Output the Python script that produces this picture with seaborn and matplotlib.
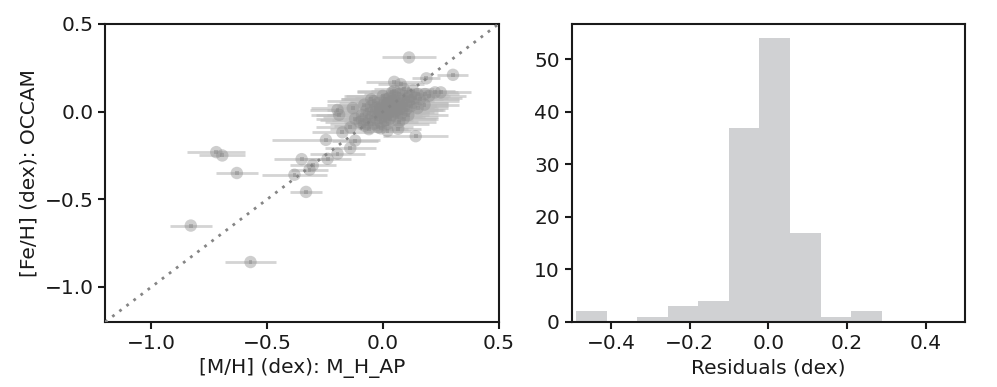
import matplotlib
matplotlib.use("Agg")
import matplotlib.pyplot as plt
import seaborn as sns
import numpy as np
import pandas as pd

# ---- data: scatter (M_H_AP vs OCCAM) ----
mh_ap = [0.113, 0.303, 0.188, 0.049, 0.077, 0.225, 0.182, -0.196, -0.189, 0.142,
         -0.246, -0.12, -0.141, -0.196, -0.239, -0.351, -0.72, -0.694, -0.631, -0.382,
         -0.317, -0.303, -0.332, -0.83, -0.572, -0.009, 0.02, 0.066,
         -0.12, -0.10, -0.09, -0.08, -0.07, -0.06, -0.05, -0.05, -0.04, -0.03,
         -0.03, -0.02, -0.02, -0.01, -0.01, 0.00, 0.00, 0.00, 0.01, 0.01,
         0.01, 0.02, 0.02, 0.02, 0.03, 0.03, 0.03, 0.04, 0.04, 0.04,
         0.05, 0.05, 0.05, 0.06, 0.06, 0.06, 0.07, 0.07, 0.08, 0.08,
         0.09, 0.09, 0.10, 0.10, 0.11, 0.12, 0.12, 0.13, 0.14, 0.15,
         0.16, 0.18, 0.20, -0.14, -0.13, -0.175, -0.08, -0.06, -0.04, -0.02,
         0.00, 0.02, 0.04, 0.07, 0.09, 0.11, 0.13, 0.01, 0.03, -0.01,
         0.02, 0.05, 0.06, -0.02, 0.04, 0.08, 0.03, -0.03, 0.07, 0.00,
         0.10, -0.06, 0.02, 0.06, -0.09, 0.11, 0.15, -0.05, 0.01, 0.09,
         -0.07, 0.25, 0.05]
occam = [0.309, 0.21, 0.19, 0.17, 0.157, 0.11, 0.10, 0.01, -0.018, -0.14,
         -0.161, -0.165, -0.208, -0.24, -0.269, -0.271, -0.231, -0.25, -0.35, -0.36,
         -0.331, -0.306, -0.458, -0.65, -0.858, -0.095, -0.11, -0.098,
         -0.04, -0.06, -0.02, -0.08, 0.01, -0.05, -0.03, 0.03, -0.07, 0.00,
         -0.04, 0.05, -0.02, 0.02, -0.06, 0.00, 0.04, -0.03, 0.01, 0.07,
         -0.05, 0.03, -0.01, 0.05, 0.00, 0.08, -0.04, 0.02, 0.06, -0.02,
         0.04, 0.00, 0.09, 0.03, -0.03, 0.06, 0.01, 0.10, 0.05, -0.01,
         0.07, 0.02, 0.04, 0.11, 0.06, 0.03, 0.09, 0.05, 0.08, 0.02,
         0.07, 0.04, 0.09, -0.09, 0.02, -0.118, 0.04, -0.10, 0.06, -0.09,
         0.09, -0.07, 0.11, -0.06, 0.13, -0.02, 0.12, 0.03, 0.04, -0.01,
         0.01, 0.02, 0.01, 0.01, 0.00, 0.03, 0.02, 0.02, 0.04, 0.02,
         0.01, -0.01, 0.07, 0.08, -0.05, 0.08, 0.10, 0.07, -0.03, -0.04,
         -0.07, 0.11, 0.12]
mh_err = [0.116, 0.067, 0.06, 0.12, 0.10, 0.10, 0.10, 0.12, 0.12, 0.14,
          0.235, 0.10, 0.11, 0.12, 0.10, 0.12, 0.125, 0.10, 0.09, 0.14,
          0.08, 0.10, 0.07, 0.09, 0.11, 0.10, 0.10, 0.10,
          0.17, 0.15, 0.20, 0.13, 0.17, 0.16, 0.21, 0.15, 0.12, 0.18,
          0.13, 0.17, 0.22, 0.15, 0.16, 0.20, 0.13, 0.17, 0.15, 0.18,
          0.12, 0.21, 0.16, 0.13, 0.17, 0.15, 0.20, 0.16, 0.18, 0.13,
          0.17, 0.15, 0.21, 0.16, 0.18, 0.13, 0.17, 0.15, 0.20, 0.16,
          0.17, 0.13, 0.18, 0.15, 0.22, 0.16, 0.17, 0.15, 0.20, 0.13,
          0.17, 0.15, 0.16, 0.15, 0.18, 0.13, 0.16, 0.17, 0.20, 0.15,
          0.17, 0.18, 0.15, 0.16, 0.13, 0.17, 0.18, 0.16, 0.17, 0.18,
          0.15, 0.17, 0.20, 0.16, 0.18, 0.15, 0.21, 0.17, 0.16, 0.18,
          0.17, 0.15, 0.20, 0.15, 0.18, 0.17, 0.18, 0.13, 0.17, 0.15,
          0.16, 0.13, 0.16]

# ---- data: residual histogram ----
bin_edges = [-0.488, -0.410, -0.333, -0.255, -0.178, -0.100, -0.023, 0.055, 0.133, 0.210, 0.288]
bin_counts = [2, 0, 1, 3, 4, 37, 54, 17, 1, 2]

x_ticks_left = [-1.0, -0.5, 0.0, 0.5]
y_ticks_left = [-1.0, -0.5, 0.0, 0.5]
x_ticks_right = [-0.4, -0.2, 0.0, 0.2, 0.4]
y_ticks_right = [0, 10, 20, 30, 40, 50]

sns.set_style("ticks")
plt.rcParams["font.family"] = ["DejaVu Sans"]
plt.rcParams.update({
    "axes.edgecolor": "#1a1a1a",
    "axes.linewidth": 1.5,
    "xtick.major.width": 1.5,
    "ytick.major.width": 1.5,
    "xtick.major.size": 5,
    "ytick.major.size": 5,
    "xtick.color": "#1a1a1a",
    "ytick.color": "#1a1a1a",
    "xtick.labelsize": 14.5,
    "ytick.labelsize": 14.5,
    "axes.labelsize": 14.5,
    "axes.labelcolor": "#1a1a1a",
})

fig, (ax1, ax2) = plt.subplots(1, 2, figsize=(9.97, 3.87), dpi=100)
fig.subplots_adjust(left=0.1055, right=0.968, top=0.938, bottom=0.168, wspace=0.186)

df = pd.DataFrame({"mh": mh_ap, "fe": occam, "err": mh_err})

# error bars
ax1.errorbar(df["mh"], df["fe"], xerr=df["err"], fmt="none",
             ecolor="#bdbdbd", elinewidth=2, alpha=0.65, zorder=1)
sns.scatterplot(data=df, x="mh", y="fe", ax=ax1, color="#8c8c8c", alpha=0.42,
                s=80, edgecolor="none", zorder=2, legend=False)
sns.scatterplot(data=df, x="mh", y="fe", ax=ax1, color="#8c8c8c", alpha=0.5,
                s=8, marker="s", edgecolor="none", zorder=3, legend=False)

lims = [-1.2, 0.5]
sns.lineplot(x=lims, y=lims, ax=ax1, color="#858585", linestyle=(0, (1, 2.2)),
             linewidth=2, zorder=4)
ax1.set_xlim(lims)
ax1.set_ylim(lims)
ax1.set_xticks(x_ticks_left)
ax1.set_yticks(y_ticks_left)
ax1.set_xlabel("[M/H] (dex): M_H_AP")
ax1.set_ylabel("[Fe/H] (dex): OCCAM")

# histogram
centers = [(bin_edges[i] + bin_edges[i + 1]) / 2 for i in range(len(bin_counts))]
sns.histplot(x=centers, weights=bin_counts, bins=bin_edges, ax=ax2,
             color="#d0d1d3", alpha=1, edgecolor="none", linewidth=0)
ax2.set_xlim(-0.5, 0.5)
ax2.set_ylim(0, 56.7)
ax2.set_xticks(x_ticks_right)
ax2.set_yticks(y_ticks_right)
ax2.set_xlabel("Residuals (dex)")
ax2.set_ylabel("")

fig.savefig("out.png", dpi=100)
